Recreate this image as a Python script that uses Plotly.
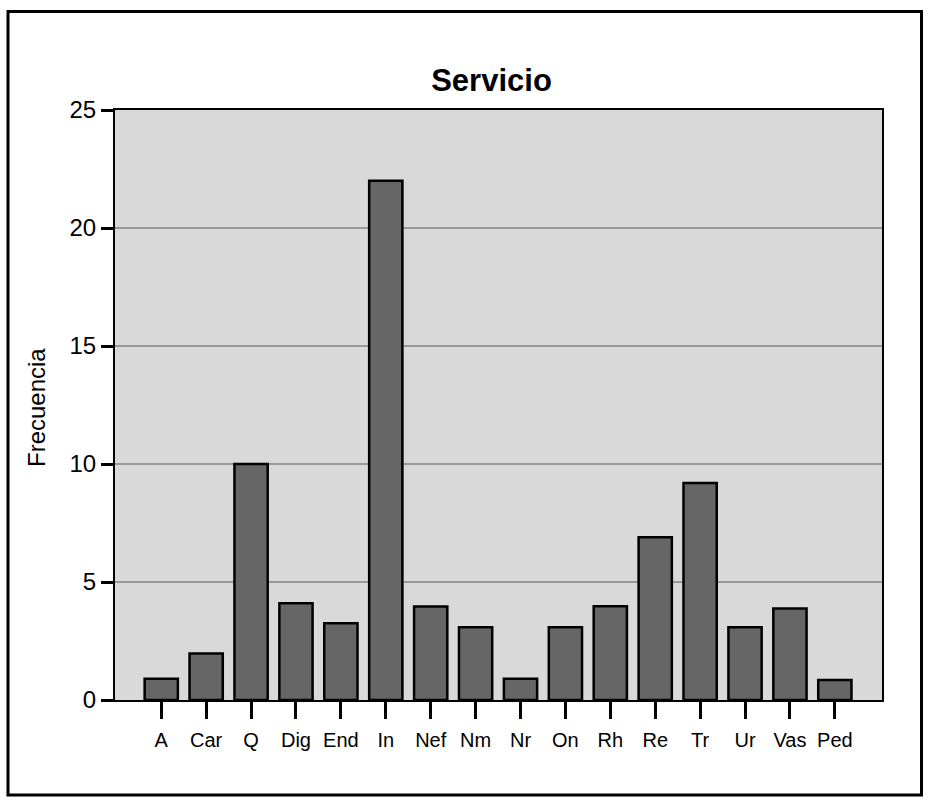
import plotly.graph_objects as go

categories = ["A", "Car", "Q", "Dig", "End", "In", "Nef", "Nm", "Nr", "On",
              "Rh", "Re", "Tr", "Ur", "Vas", "Ped"]
frecuencia = [0.9, 1.97, 10.0, 4.1, 3.25, 22.0, 3.96, 3.08, 0.9, 3.08,
              3.97, 6.9, 9.2, 3.08, 3.88, 0.85]
y_ticks = [0, 5, 10, 15, 20, 25]
title_text = "Servicio"
y_title = "Frecuencia"

FONT = "Liberation Sans, Arial, Helvetica, sans-serif"
W, H = 931, 808
L, R, T, B = 115, 49, 110, 108
pw, ph = W - L - R, H - T - B

def px_x(x):
    return (x - L) / pw

def px_y(y):
    return (H - B - y) / ph

fig = go.Figure(go.Bar(
    x=categories,
    y=frecuencia,
    width=0.74,
    marker=dict(color="#666666", line=dict(color="black", width=2.5)),
))

fig.update_layout(
    width=W, height=H,
    margin=dict(l=L, r=R, t=T, b=B),
    paper_bgcolor="white",
    plot_bgcolor="#d9d9d9",
    showlegend=False,
    font=dict(family=FONT, color="black"),
    title=dict(text="<b>" + title_text + "</b>", x=px_x(491.5), xref="paper",
               xanchor="center", y=1 - 80 / H, yanchor="middle",
               font=dict(size=31, family=FONT, color="black")),
    xaxis=dict(
        type="category",
        range=[-1.03, 16.05],
        showline=True, linecolor="black", linewidth=2, mirror=True,
        ticks="outside", ticklen=17, tickwidth=2.5, tickcolor="black",
        tickfont=dict(size=20, family=FONT),
        ticklabelstandoff=4,
        showgrid=False,
    ),
    yaxis=dict(
        range=[0, 25],
        tickvals=y_ticks,
        showline=True, linecolor="black", linewidth=2, mirror=True,
        ticks="outside", ticklen=12, tickwidth=2.5, tickcolor="black",
        tickfont=dict(size=24, family=FONT),
        showgrid=True, gridcolor="#999999", gridwidth=1.5,
        zeroline=False,
    ),
    shapes=[dict(
        type="rect", xref="paper", yref="paper",
        x0=px_x(8), x1=px_x(921.5), y0=px_y(795), y1=px_y(11.5),
        line=dict(color="black", width=3), fillcolor="rgba(0,0,0,0)",
        layer="above",
    )],
    annotations=[dict(
        text=y_title, xref="paper", yref="paper",
        x=px_x(36), y=px_y(408), xanchor="center", yanchor="middle",
        textangle=-90, showarrow=False,
        font=dict(size=24, family=FONT, color="black"),
    )],
)

fig.write_html(
    "out.html",
    config={"displayModeBar": False},
    post_script="document.body.style.margin='0';document.body.style.overflow='hidden';",
)
